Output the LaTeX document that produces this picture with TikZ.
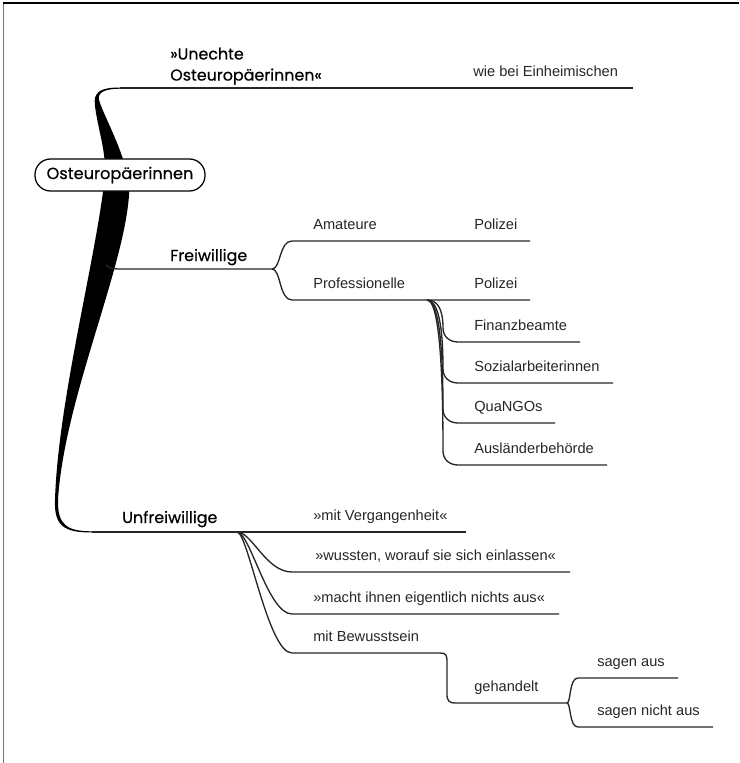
\documentclass[tikz,border=0pt]{standalone}
\usepackage{fontspec}
\setmainfont{Liberation Sans}
\newfontfamily\futura[FakeBold=0.5]{Poppins}
\usetikzlibrary{calc}
\tikzset{
	twig/.style={draw=black!85, line width=0.95pt},
	leaf/.style={inner sep=0pt, anchor=base west, text=black!85, font=\fontsize{10.4}{12}\selectfont},
	bough/.style={inner sep=0pt, anchor=base west, font=\futura\fontsize{11.3}{15}\selectfont},
	rootbox/.style={draw, line width=0.9pt, fill=white, rounded corners=0.39cm, minimum width=4.25cm, minimum height=0.8cm, inner sep=0pt, font=\futura\fontsize{11.5}{14}\selectfont}
}

\begin{document}
\begin{tikzpicture}[x=0.025cm, y=-0.025cm]
			%%%%% START %%%%%
			\useasboundingbox (0,0) rectangle (739,763);
			\draw[black!55, line width=1.4pt] (3.5,3) -- (3.5,763);
			\draw[black, line width=1.4pt] (3,3) -- (739,3);
			
			% fork points
			\coordinate (top) at (120,88);
			\coordinate (fw) at (272,269);
			\coordinate (pf) at (427,300);
			\coordinate (uf) at (237,532);
			\coordinate (gh) at (567,703);
			
			% trunk
			\fill (120,87.5) .. controls (100,87.5) and (93,92) .. (95,106)
				.. controls (98,130) and (106,150) .. (105,175)
				.. controls (97,255) and (58,400) .. (55,500)
				.. controls (54,526) and (64,532.5) .. (92,532.5)
				-- (92,531.3)
				.. controls (67,531.3) and (57.5,525) .. (58,500)
				.. controls (64,400) and (124,270) .. (129,195)
				.. controls (130,160) and (105,120) .. (99,100)
				.. controls (97,92) and (106,88.7) .. (120,88.7) -- cycle;
			
			\node[rootbox] (root) at (120,175) {Osteuropäerinnen};
			
			% unechte
			\draw[twig] (top) -- (633,88);
			\node[bough, align=left, anchor=south west] (unecht) at (170,85) {»Unechte\\Osteuropäerinnen«};
			\node[leaf] (einh) at (473,76) {wie bei Einheimischen};
			
			% freiwillige
			\draw[twig] (106,265) .. controls (110,269) and (114,269) .. (122,269) -- (fw);
			\node[bough] (frei) at (170,261) {Freiwillige};
			\draw[twig] (fw) .. controls (281,269) and (279,241) .. (292,241) -- (530,241);
			\draw[twig] (fw) .. controls (281,269) and (279,300) .. (292,300) -- (530,300);
			\node[leaf] (amat) at (313,229) {Amateure};
			\node[leaf] (polA) at (474,229) {Polizei};
			\node[leaf] (prof) at (313,288) {Professionelle};
			\node[leaf] (polB) at (474,288) {Polizei};
			
			\draw[twig] (pf) .. controls +(10,0) and +(0,-20) .. (443,328) .. controls +(0,9) and +(-8,0) .. (458,342) -- (580,342);
			\draw[twig] (pf) .. controls +(10,0) and +(0,-48) .. (443,369) .. controls +(0,9) and +(-8,0) .. (458,383) -- (613,383);
			\draw[twig] (pf) .. controls +(10,0) and +(0,-76) .. (443,409) .. controls +(0,9) and +(-8,0) .. (458,423) -- (555,423);
			\draw[twig] (pf) .. controls +(10,0) and +(0,-105) .. (443,451) .. controls +(0,9) and +(-8,0) .. (458,465) -- (607,465);
			\node[leaf] (fin) at (474,330) {Finanzbeamte};
			\node[leaf] (soz) at (474,371) {Sozialarbeiterinnen};
			\node[leaf] (quango) at (474,411) {QuaNGOs};
			\node[leaf] (ausl) at (474,453) {Ausländerbehörde};
			
			% unfreiwillige
			\draw[twig] (92,532) -- (466,532);
			\node[bough] (unfrei) at (122,523) {Unfreiwillige};
			\node[leaf] (verg) at (313,520) {»mit Vergangenheit«};
			\draw[twig] (uf) .. controls (252,532) and (266,572) .. (292,572) -- (570,572);
			\draw[twig] (uf) .. controls (250,532) and (268,614) .. (292,614) -- (559,614);
			\draw[twig] (uf) .. controls (248,532) and (268,653) .. (292,653) -- (440,653)
				.. controls (446,653) and (447,655) .. (447,662) -- (447,694)
				.. controls (447,701) and (449,703) .. (456,703) -- (gh);
			\node[leaf] (wuss) at (315,560) {»wussten, worauf sie sich einlassen«};
			\node[leaf] (macht) at (313,602) {»macht ihnen eigentlich nichts aus«};
			\node[leaf] (bew) at (313,641) {mit Bewusstsein};
			\node[leaf] (geh) at (474,691) {gehandelt};
			
			\draw[twig] (gh) .. controls (571,703) and (569,678) .. (578,678) -- (678,678);
			\draw[twig] (gh) .. controls (571,703) and (569,727) .. (578,727) -- (713,727);
			\node[leaf] (aus) at (597,666) {sagen aus};
			\node[leaf] (nichtaus) at (597,715) {sagen nicht aus};
			%%%%% END %%%%%
\end{tikzpicture}
\end{document}
